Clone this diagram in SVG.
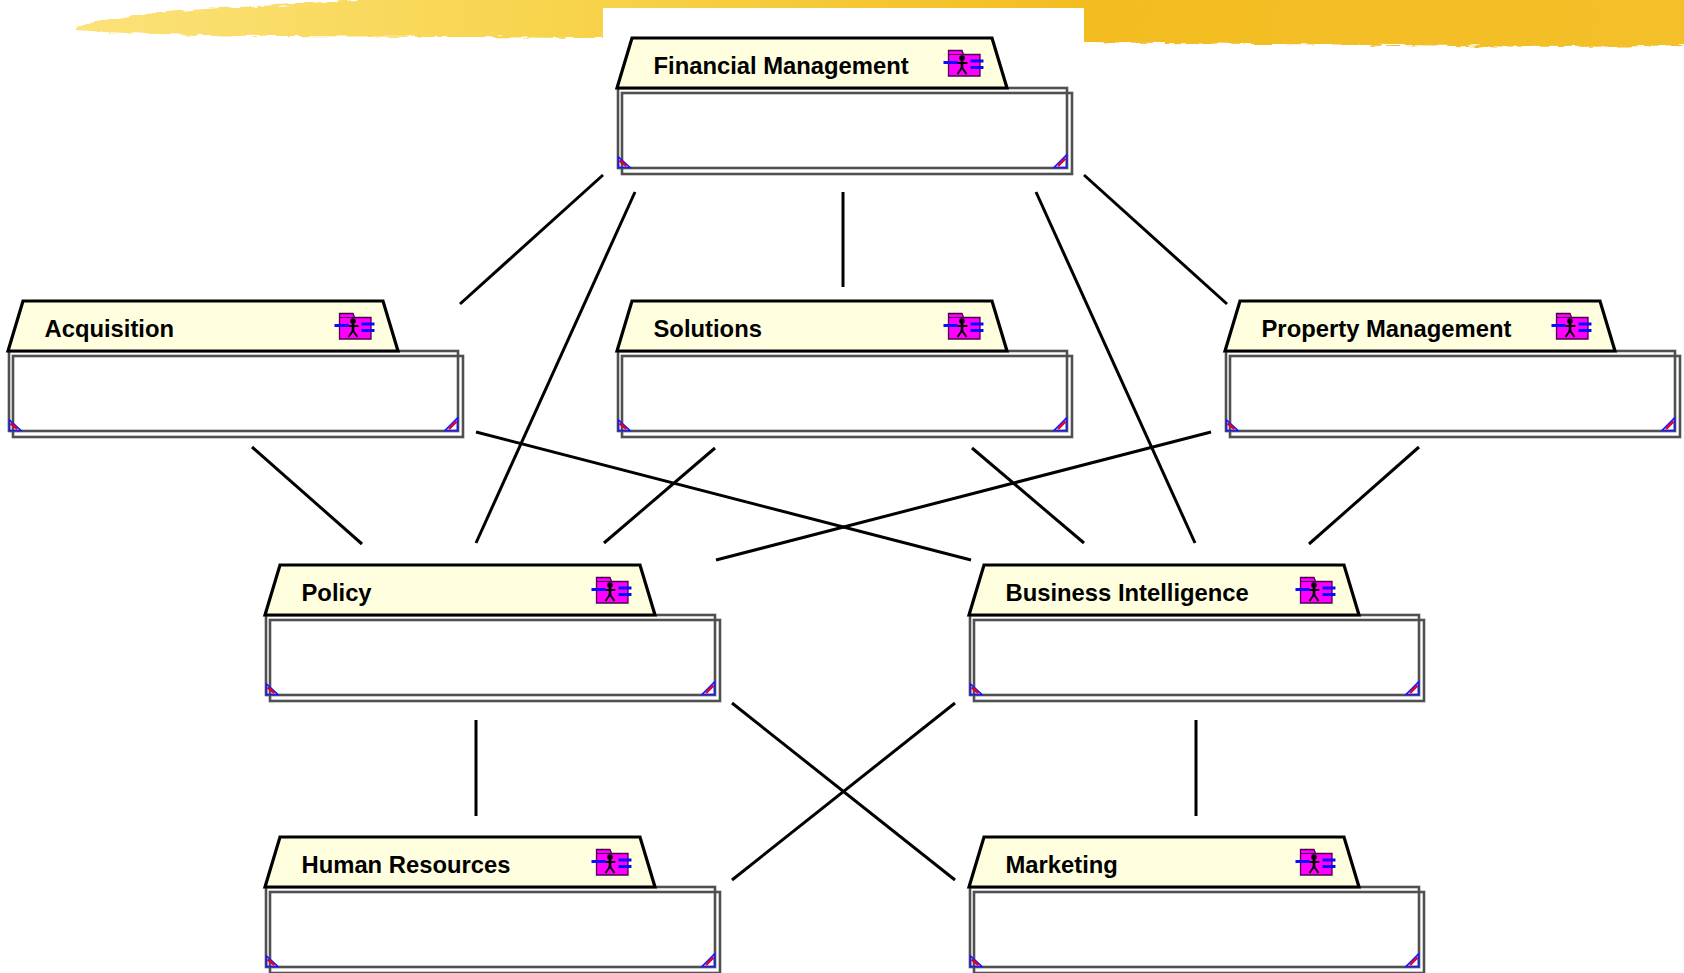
<svg xmlns="http://www.w3.org/2000/svg" xmlns:xlink="http://www.w3.org/1999/xlink" width="1684" height="973" viewBox="0 0 1684 973">
  <style>
    .conn { stroke: #000; stroke-width: 3; fill: none; stroke-linecap: butt; }
    .frame { fill: none; stroke: #505050; stroke-width: 2.6; }
    .tab { fill: #ffffdf; stroke: #000; stroke-width: 3.2; stroke-linejoin: miter; }
    .label { font-family: "Liberation Sans", Arial, sans-serif; font-weight: bold; font-size: 23.8px; fill: #000; }
    .bar { fill: #0a0aff; }
  </style>
  <defs>
    <linearGradient id="brushFill" x1="0" y1="0" x2="1" y2="0">
      <stop offset="0" stop-color="#fbe27a"/>
      <stop offset="0.3" stop-color="#f8d44c"/>
      <stop offset="0.62" stop-color="#f3bd22"/>
      <stop offset="1" stop-color="#f4c02a"/>
    </linearGradient>
    <filter id="rough" x="-2%" y="-40%" width="104%" height="180%">
      <feTurbulence type="fractalNoise" baseFrequency="0.06 0.35" numOctaves="2" seed="4" result="n"/>
      <feDisplacementMap in="SourceGraphic" in2="n" scale="6" xChannelSelector="R" yChannelSelector="G"/>
    </filter>

    <!-- package icon: magenta folder with actor figure and blue ports -->
    <g id="pkgIcon">
      <path d="M331.5,-12 V-37.5 H345 L346.5,-33.5 H363 V-12 Z" fill="#ff00ff" stroke="#4a004a" stroke-width="1.3"/>
      <line x1="331.5" y1="-33.5" x2="363" y2="-33.5" stroke="#4a004a" stroke-width="1"/>
      <circle cx="345" cy="-30" r="2.8" fill="#000"/>
      <line x1="345" y1="-29" x2="345" y2="-20" stroke="#000" stroke-width="2.6"/>
      <line x1="339.5" y1="-25" x2="350.5" y2="-25" stroke="#000" stroke-width="2"/>
      <line x1="345" y1="-20.5" x2="340.5" y2="-14" stroke="#000" stroke-width="2"/>
      <line x1="345" y1="-20.5" x2="349.5" y2="-14" stroke="#000" stroke-width="2"/>
      <rect class="bar" x="326.5" y="-27" width="14" height="3"/>
      <rect class="bar" x="353.5" y="-28.5" width="13" height="3"/>
      <rect class="bar" x="353.5" y="-22" width="13" height="3"/>
    </g>

    <!-- package frame: tab with double-outlined body and corner marks -->
    <g id="pkg">
      <rect x="1" y="0" width="454" height="86" fill="#fff"/>
      <rect class="frame" x="5" y="5" width="450" height="81"/>
      <rect class="frame" x="1" y="0" width="449" height="80"/>
      <path class="tab" d="M0,0 L15,-50 L375,-50 L390,0 Z"/>
      <path d="M1.5,69 L1.5,79.5 L13,79.5 Z" fill="none" stroke="#1a1aff" stroke-width="1.6"/>
      <line x1="2.5" y1="72.5" x2="9.5" y2="78" stroke="#e00020" stroke-width="2.4"/>
      <path d="M449.5,67 L449.5,79.5 L437,79.5 Z" fill="none" stroke="#1a1aff" stroke-width="1.6"/>
      <line x1="448.5" y1="70.5" x2="441" y2="78" stroke="#e00020" stroke-width="2.4"/>
      <use href="#pkgIcon"/>
    </g>
  </defs>

  <rect width="1684" height="973" fill="#fff"/>

  <!-- yellow brush stroke along the top -->
  <g id="banner" filter="url(#rough)">
    <path fill="url(#brushFill)" d="M76,27 C110,17 160,11 240,7 C330,2 420,-4 520,-10 L1690,-10 L1690,45 C1600,48 1500,47 1400,45 C1300,44 1200,44 1090,42 C950,40 760,39 600,38 C450,37 300,37 200,35 C140,34 100,32 76,30 Z"/>
  </g>
  <rect x="603" y="8" width="481" height="28" fill="#fff"/>
  <rect x="603" y="36" width="481" height="16" fill="#fff"/>

  <!-- connectors -->
  <g id="connectors">
    <line class="conn" x1="603" y1="175" x2="460" y2="304"/>
    <line class="conn" x1="635" y1="192" x2="476" y2="543"/>
    <line class="conn" x1="843" y1="192" x2="843" y2="287"/>
    <line class="conn" x1="1036" y1="192" x2="1195" y2="543"/>
    <line class="conn" x1="1084" y1="175" x2="1227" y2="304"/>
    <line class="conn" x1="252" y1="447" x2="362" y2="544"/>
    <line class="conn" x1="476" y1="432" x2="971" y2="560"/>
    <line class="conn" x1="715" y1="448" x2="604" y2="543"/>
    <line class="conn" x1="972" y1="448" x2="1084" y2="543"/>
    <line class="conn" x1="1211" y1="432" x2="716" y2="560"/>
    <line class="conn" x1="1419" y1="447" x2="1309" y2="544"/>
    <line class="conn" x1="476" y1="720" x2="476" y2="816"/>
    <line class="conn" x1="732" y1="703" x2="955" y2="880"/>
    <line class="conn" x1="955" y1="703" x2="732" y2="880"/>
    <line class="conn" x1="1196" y1="720" x2="1196" y2="816"/>
  </g>

  <!-- packages -->
  <g id="financial-management" transform="translate(617,88)">
    <use href="#pkg"/>
    <text class="label" x="36.5" y="-14.5">Financial Management</text>
  </g>
  <g id="acquisition" transform="translate(8,351)">
    <use href="#pkg"/>
    <text class="label" x="36.5" y="-14.5">Acquisition</text>
  </g>
  <g id="solutions" transform="translate(617,351)">
    <use href="#pkg"/>
    <text class="label" x="36.5" y="-14.5">Solutions</text>
  </g>
  <g id="property-management" transform="translate(1225,351)">
    <use href="#pkg"/>
    <text class="label" x="36.5" y="-14.5">Property Management</text>
  </g>
  <g id="policy" transform="translate(265,615)">
    <use href="#pkg"/>
    <text class="label" x="36.5" y="-14.5">Policy</text>
  </g>
  <g id="business-intelligence" transform="translate(969,615)">
    <use href="#pkg"/>
    <text class="label" x="36.5" y="-14.5">Business Intelligence</text>
  </g>
  <g id="human-resources" transform="translate(265,887)">
    <use href="#pkg"/>
    <text class="label" x="36.5" y="-14.5">Human Resources</text>
  </g>
  <g id="marketing" transform="translate(969,887)">
    <use href="#pkg"/>
    <text class="label" x="36.5" y="-14.5">Marketing</text>
  </g>
</svg>
